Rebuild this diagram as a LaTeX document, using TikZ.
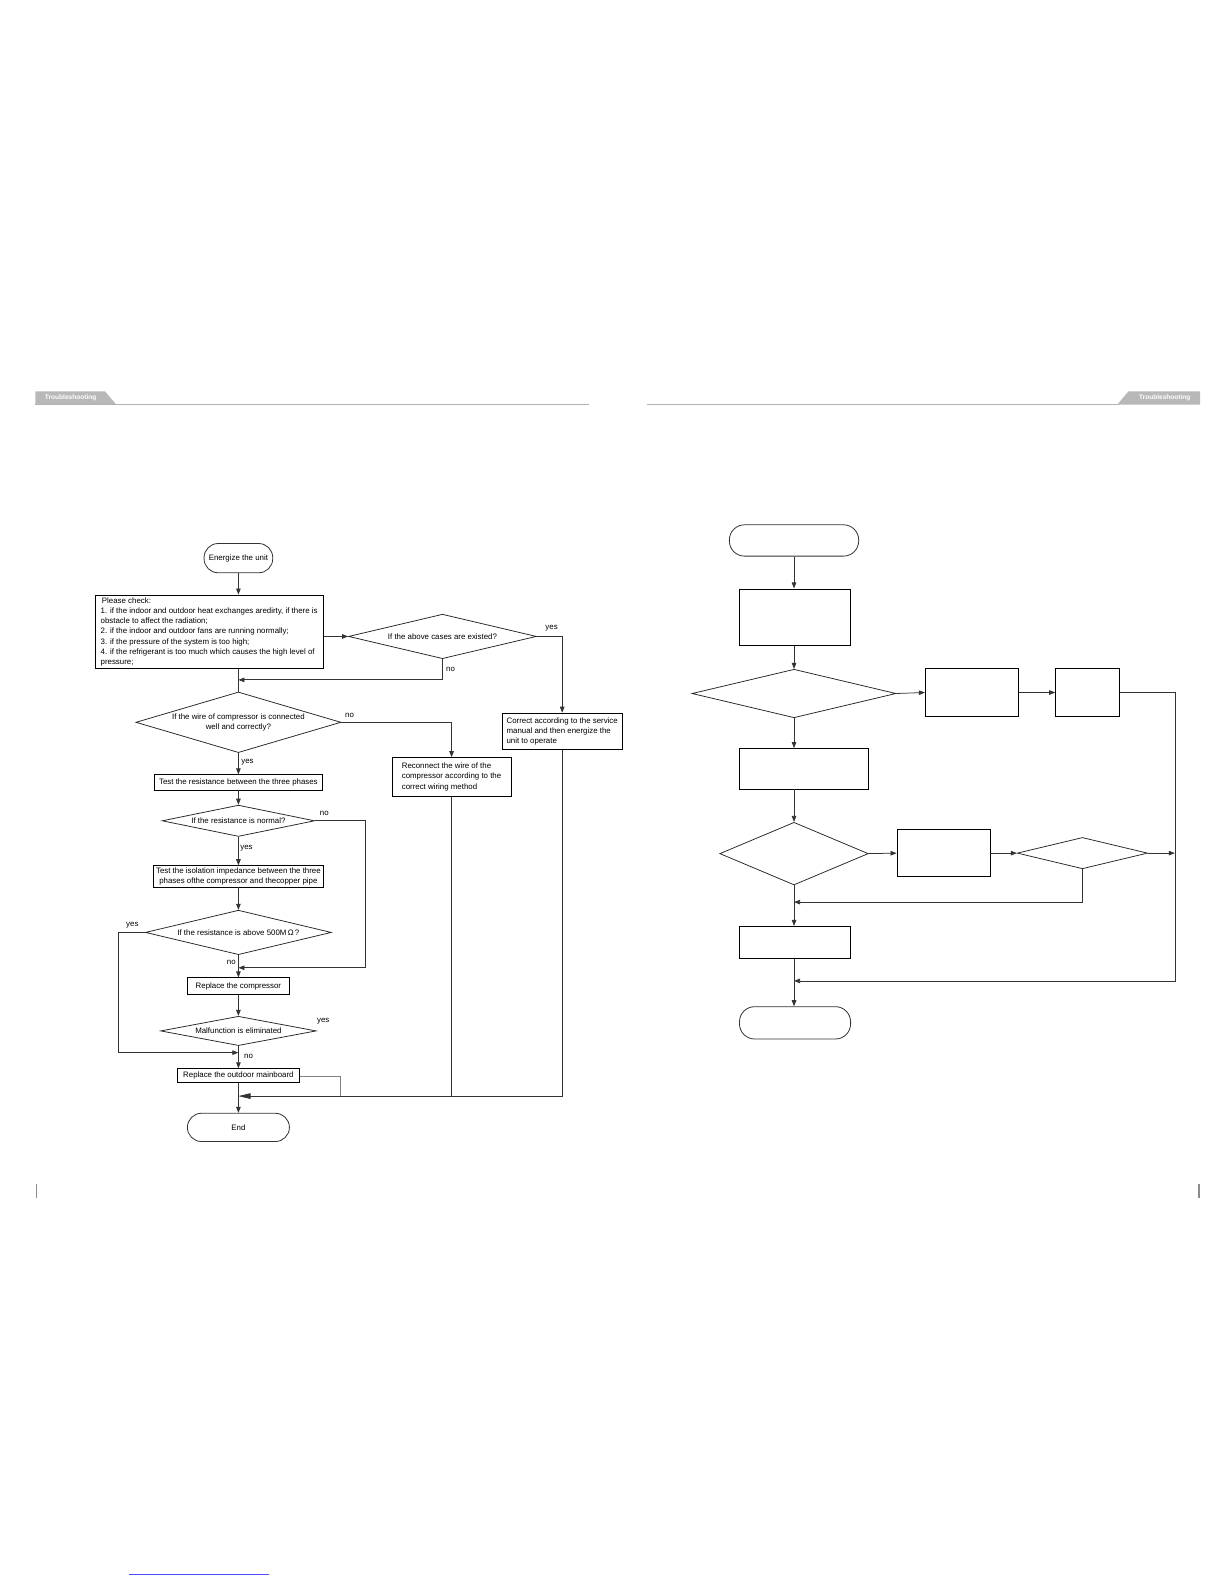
\documentclass[tikz,border=0pt]{standalone}
\usepackage{fontspec}
\setmainfont{Liberation Sans}
\usetikzlibrary{positioning,arrows.meta,shapes.geometric}

\begin{document}
\begin{tikzpicture}[
    x=1pt, y=-1pt,
    every node/.style={font=\fontsize{7.8}{10.2}\selectfont},
    box/.style={draw=black, line width=0.9pt, inner xsep=3pt, inner ysep=1.5pt, align=left},
    terminal/.style={draw=black!80, line width=0.8pt, rounded corners=14pt},
    decision/.style={diamond, draw=black!85, line width=0.75pt, inner sep=0pt, aspect=4, align=center},
    flow/.style={draw=black!80, line width=0.75pt},
    flowarrow/.style={flow, -{Triangle[length=6pt, width=4.5pt]}},
    mergearrow/.style={flow, -{Triangle[length=12pt, width=5.5pt]}},
    lbl/.style={inner sep=1pt},
    headtab/.style={fill=black!28, draw=none},
    headline/.style={draw=black!30, line width=0.8pt},
    tabtext/.style={font=\fontsize{6.5}{7}\selectfont\bfseries, text=white, inner sep=0pt},
]

% page
\fill[white] (0,0) rectangle (1212,1568);
\useasboundingbox (0,0) rectangle (1212,1568);

% =====================================================================
% Page headers and footers
% =====================================================================
\fill[headtab] (35,387.5) -- (104,387.5) -- (115,400.5) -- (35,400.5) -- cycle;
\node[tabtext] (lefttab) at (70,394) {Troubleshooting};
\draw[headline] (35,400) -- (583,400);

\fill[headtab] (1117,387.5) -- (1188,387.5) -- (1188,400.5) -- (1106,400.5) -- cycle;
\node[tabtext] (righttab) at (1153,394) {Troubleshooting};
\draw[headline] (640,400) -- (1108,400);

\draw[black!45, line width=1.6pt] (36,1172) -- (36,1186);
\draw[black!45, line width=1.6pt] (1187,1172) -- (1187,1186);
\draw[blue!70, line width=0.5pt] (128,1558) -- (266,1558);

% =====================================================================
% LEFT PAGE: compressor high pressure flowchart
% =====================================================================
\node[terminal, minimum width=68, minimum height=29] (energize) at (236,552.5) {Energize the unit};
\node[box, minimum width=226, minimum height=73] (check) at (207,625.5) {%
    \,Please check:\\
    1. if the indoor and outdoor heat exchanges aredirty, if there is\\
    obstacle to affect the radiation;\\
    2. if the indoor and outdoor fans are running normally;\\
    3. if the pressure of the system is too high;\\
    4. if the refrigerant is too much which causes the high level of\\
    pressure;};
\node[decision, minimum width=186, minimum height=44] (q1) at (438,630) {If the above cases are existed?};
\node[box, minimum width=119, minimum height=36] (correct) at (556.5,724) {%
    Correct according to the service\\manual and then energize the\\unit to operate};

\node[decision, minimum width=203, minimum height=60, aspect=3.4] (q2) at (236,715) {%
    If the wire of compressor is connected\\well and correctly?};
\node[box, minimum width=118, minimum height=38] (reconnect) at (447,769) {%
    Reconnect the wire of the\\compressor according to the\\correct wiring method};

\node[box, minimum width=167, minimum height=15, align=center] (test) at (236,774.5) {Test the resistance between the three phases};
\node[decision, minimum width=151, minimum height=31] (q3) at (236,812.5) {If the resistance is normal?};
\node[box, minimum width=168, minimum height=21, inner ysep=0.5pt, align=center] (iso) at (236,867.5) {%
    Test the isolation impedance between the three\\phases ofthe compressor and thecopper pipe};
\node[decision, minimum width=184, minimum height=44] (q4) at (236,923) {If the resistance is above 500M\,Ω\,?};
\node[box, minimum width=101, minimum height=16, align=center] (replace) at (236,976) {Replace the compressor};
\node[decision, minimum width=154, minimum height=29] (q5) at (236,1020.5) {Malfunction is eliminated};
\node[box, minimum width=121, minimum height=14, align=center] (mainboard) at (236,1065) {Replace the outdoor mainboard};
\node[terminal, minimum width=101, minimum height=28] (end) at (236,1116) {End};

% labels
\node[lbl] (q1yes) at (546,622) {yes};
\node[lbl] (q1no) at (446,663) {no};
\node[lbl] (q2no) at (346,708) {no};
\node[lbl] (q2yes) at (245,754) {yes};
\node[lbl] (q3no) at (321,805) {no};
\node[lbl] (q3yes) at (244,840) {yes};
\node[lbl] (q4yes) at (131,916) {yes};
\node[lbl] (q4no) at (229,953) {no};
\node[lbl] (q5yes) at (320,1011) {yes};
\node[lbl] (q5no) at (246,1046) {no};

% junction points on the main column
\coordinate (j1) at (236,673);
\coordinate (j2) at (236,958);
\coordinate (j3) at (236,1042);
\coordinate (j4) at (236,1085);
\coordinate (q3turn) at (362,958);
\coordinate (q4turn) at (117,1042);
\coordinate (mbturn) at (337,1085);
\coordinate (crturn) at (556.5,1085);

% connectors
\draw[flowarrow] (energize) -- (check.north -| energize);
\draw[flowarrow] (q1.west -| check.east) -- (q1.west);
\draw[flowarrow] (q1.east) -| (correct.north);
\draw[flowarrow] (q1.south) |- (j1);
\draw[flow] (check.south -| q2.north) -- (q2.north);
\draw[flowarrow] (q2.east) -| (reconnect.north);
\draw[flowarrow] (q2.south) -- (test.north);
\draw[flowarrow] (test.south) -- (q3.north);
\draw[flowarrow] (q3.east) -| (q3turn) -- (j2);
\draw[flowarrow] (q3.south) -- (iso.north);
\draw[flowarrow] (iso.south) -- (q4.north);
\draw[flowarrow] (q4.west) -| (q4turn) -- (j3);
\draw[flowarrow] (q4.south) -- (replace.north);
\draw[flowarrow] (replace.south) -- (q5.north);
\draw[flowarrow] (q5.south) -- (mainboard.north);
\draw[flow, draw=black!50] (mainboard.east) -| (mbturn);
\draw[flow] (reconnect.south) -- (reconnect.south |- j4);
\draw[mergearrow] (correct.south) -- (crturn) -- (j4);
\draw[flowarrow] (mainboard.south) -- (end.north);

% =====================================================================
% RIGHT PAGE: empty flowchart
% =====================================================================
\node[terminal, minimum width=128, minimum height=31, rounded corners=15pt] (rstart) at (786,535) {};
\node[box, minimum width=110, minimum height=56] (rbox1) at (787,611) {};
\node[decision, minimum width=202, minimum height=48] (rq1) at (786,686.5) {};
\node[box, minimum width=92, minimum height=47] (rboxa) at (962,685.5) {};
\node[box, minimum width=63, minimum height=47] (rboxb) at (1076.5,685.5) {};
\node[box, minimum width=128, minimum height=40] (rbox2) at (796,761) {};
\node[decision, minimum width=147, minimum height=62] (rq2) at (786,845) {};
\node[box, minimum width=92, minimum height=47] (rboxc) at (934,844.5) {};
\node[decision, minimum width=129, minimum height=31] (rq3) at (1071.5,844.5) {};
\node[box, minimum width=110, minimum height=32] (rbox3) at (787,933) {};
\node[terminal, minimum width=110, minimum height=32, rounded corners=15pt] (rend) at (787,1012.5) {};

\coordinate (rj1) at (786,893);
\coordinate (rj2) at (786,971);
\coordinate (rturn) at (1163,971);

\draw[flowarrow] (rstart.south) -- (rstart.south |- rbox1.north);
\draw[flowarrow] (rq1.north |- rbox1.south) -- (rq1.north);
\draw[flowarrow] (rq1.east) -- (rboxa.west);
\draw[flowarrow] (rboxa.east) -- (rboxb.west);
\draw[flowarrow] (rboxb.east) -| (rturn) -- (rj2);
\draw[flowarrow] (rq1.south) -- (rq1.south |- rbox2.north);
\draw[flowarrow] (rq1.south |- rbox2.south) -- (rq2.north);
\draw[flowarrow] (rq2.east) -- (rboxc.west);
\draw[flowarrow] (rboxc.east) -- (rq3.west);
\draw[flowarrow] (rq3.east) -- (rq3.east -| rturn);
\draw[flowarrow] (rq3.south) |- (rj1);
\draw[flowarrow] (rq2.south) -- (rq2.south |- rbox3.north);
\draw[flowarrow] (rq2.south |- rbox3.south) -- (rq2.south |- rend.north);

\end{tikzpicture}
\end{document}
